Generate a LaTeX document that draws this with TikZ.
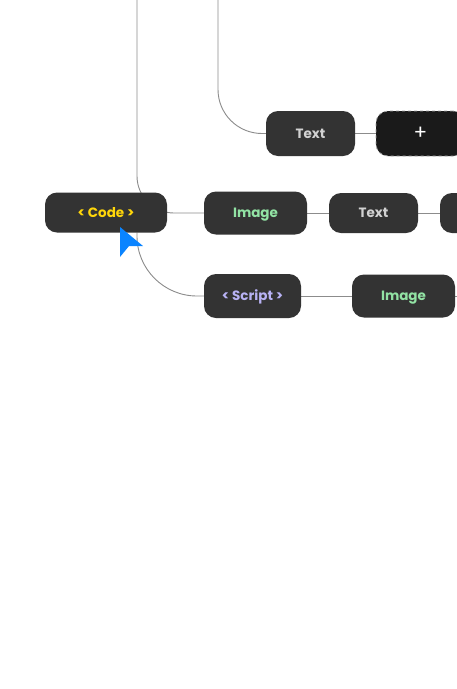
\documentclass[tikz,border=0pt]{standalone}
\usepackage{fontspec}
\setmainfont{Poppins}
\usepackage{xcolor}
\usetikzlibrary{positioning,backgrounds}

\definecolor{blockfill}{HTML}{333333}
\definecolor{plusfill}{HTML}{1A1A1A}
\definecolor{linkgray}{HTML}{8C8C8C}
\definecolor{codeyellow}{HTML}{FFD60A}
\definecolor{imagegreen}{HTML}{92E3A4}
\definecolor{textgray}{HTML}{D2D2D2}
\definecolor{scriptlilac}{HTML}{B8B2F4}
\definecolor{cursorblue}{HTML}{0A84FF}

\tikzset{
  block/.style={fill=blockfill, rounded corners=12pt, inner sep=0pt,
    text height=9.5pt, text depth=0pt,
    font=\bfseries\fontsize{13.5}{15}\selectfont},
  link/.style={draw=linkgray, line width=0.9pt}
}

\begin{document}
\begin{tikzpicture}[x=1pt, y=-1pt]
        \useasboundingbox (0,0) rectangle (457,689);

        % upper row
        \node[block, minimum width=89pt, minimum height=45pt, text=textgray] (text1) at (310.5,133.5) {Text};
        \node[block, fill=plusfill, draw=linkgray!80, dashed, line width=0.8pt, minimum width=89pt, minimum height=45pt, text=white,
              text height=11pt, font=\fontsize{20}{20}\selectfont] (plusbox) at (420.5,133.5) {+};

        % middle row
        \node[block, minimum width=122pt, minimum height=40pt, text=codeyellow] (code) at (106,212.5) {< Code >};
        \node[block, minimum width=103pt, minimum height=43pt, text=imagegreen] (image1) at (255.5,213) {Image};
        \node[block, minimum width=89pt, minimum height=40pt, text=textgray] (text2) at (373.5,213) {Text};
        \node[block, minimum width=89pt, minimum height=40pt] (stub) at (484.5,213) {};

        % lower row
        \node[block, minimum width=97pt, minimum height=44pt, text=scriptlilac] (script) at (252.5,296) {< Script >};
        \node[block, minimum width=103pt, minimum height=43pt, text=imagegreen] (image2) at (403.5,296) {Image};

        \coordinate (topleft) at (137,0);
        \coordinate (topright) at (218,0);
        \coordinate (exit) at (470,296);

        \begin{scope}[on background layer]
            \fill[white] (0,0) rectangle (457,689);
            \draw[link, rounded corners=37pt] (topleft) |- (image1.west);
            \draw[link, rounded corners=44pt] (topright) |- (text1.west);
            \draw[link, rounded corners=60pt] (code.south -| topleft) |- (script.west);
            \draw[link] (text1.east) -- (plusbox.west);
            \draw[link] (image1.east) -- (text2.west);
            \draw[link] (text2.east) -- (stub.west);
            \draw[link] (script.east) -- (image2.west);
            \draw[link] (image2.east) -- (exit);
        \end{scope}

        % pointer
        \fill[cursorblue] (120,227) -- (143,246) -- (129,246) -- (120,257) -- cycle;
    \end{tikzpicture}
\end{document}
